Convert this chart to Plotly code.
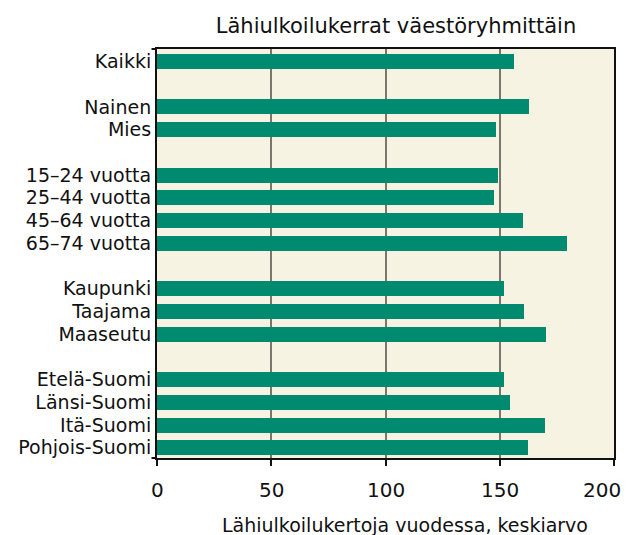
import plotly.graph_objects as go

groups = [
    ["Kaikki"],
    ["Nainen", "Mies"],
    ["15–24 vuotta", "25–44 vuotta", "45–64 vuotta", "65–74 vuotta"],
    ["Kaupunki", "Taajama", "Maaseutu"],
    ["Etelä-Suomi", "Länsi-Suomi", "Itä-Suomi", "Pohjois-Suomi"],
]
values = [
    [156.4],
    [163.0, 148.5],
    [149.4, 147.6, 160.3, 179.6],
    [152.0, 160.8, 170.4],
    [152.0, 154.6, 170.0, 162.5],
]
x_ticks = [0, 50, 100, 150, 200]
x_title = "Lähiulkoilukertoja vuodessa, keskiarvo"
chart_title = "Lähiulkoilukerrat väestöryhmittäin"

labels, vals, pos = [], [], []
p = 0
for g, v in zip(groups, values):
    for lab, val in zip(g, v):
        labels.append(lab)
        vals.append(val)
        pos.append(p)
        p += 1
    p += 1

font = "DejaVu Sans, Liberation Sans, Arial, sans-serif"
W, H = 622, 527
L, T, R, B = 149, 41, 16, 77
PW = W - L - R

fig = go.Figure(go.Bar(
    x=vals, y=pos, orientation="h",
    marker=dict(color="#008a6f", line=dict(width=0)),
    width=0.66,
))

annotations = []
for i, t in enumerate(x_ticks):
    last = i == len(x_ticks) - 1
    annotations.append(dict(
        x=t, xref="x", y=0, yref="paper", text=str(t), showarrow=False,
        xanchor="center", xshift=-12 if last else 0,
        yanchor="middle", yshift=-32,
        font=dict(family=font, size=20, color="#111"),
    ))
annotations.append(dict(
    x=(396.5 - L) / PW, xref="paper", y=0, yref="paper", text=x_title,
    showarrow=False, xanchor="center", yanchor="middle", yshift=-67,
    font=dict(family=font, size=19, color="#111"),
))

fig.update_layout(
    width=W, height=H,
    margin=dict(l=L, r=R, t=T, b=B, autoexpand=False),
    paper_bgcolor="white",
    plot_bgcolor="#f6f3e3",
    showlegend=False,
    title=dict(text=chart_title, x=(396 - 8) / W,
               xanchor="center", y=1 - 18 / H, yanchor="middle",
               font=dict(family=font, size=21, color="#111")),
    font=dict(family=font, color="#111"),
    bargap=0,
    annotations=annotations,
    shapes=[
        dict(type="line", xref="paper", yref="paper", x0=-0.012, x1=0, y0=1, y1=1,
             line=dict(color="#111", width=2)),
        dict(type="line", xref="paper", yref="paper", x0=-0.012, x1=0, y0=0, y1=0,
             line=dict(color="#111", width=2)),
    ],
)
fig.update_xaxes(
    range=[0, 200], tickvals=x_ticks, ticks="outside", ticklen=6, tickwidth=1.5,
    tickcolor="#111", showline=True, linecolor="#111", linewidth=2, mirror=True,
    showgrid=True, gridcolor="#7a766b", gridwidth=2,
    showticklabels=False, zeroline=False,
)
fig.update_yaxes(
    range=[17.45, -0.55], tickvals=pos, ticktext=labels, ticks="",
    showline=True, linecolor="#111", linewidth=2, mirror=True,
    showgrid=False, zeroline=False, tickfont=dict(size=19), ticklabelstandoff=0,
)
fig.write_html("out.html")
